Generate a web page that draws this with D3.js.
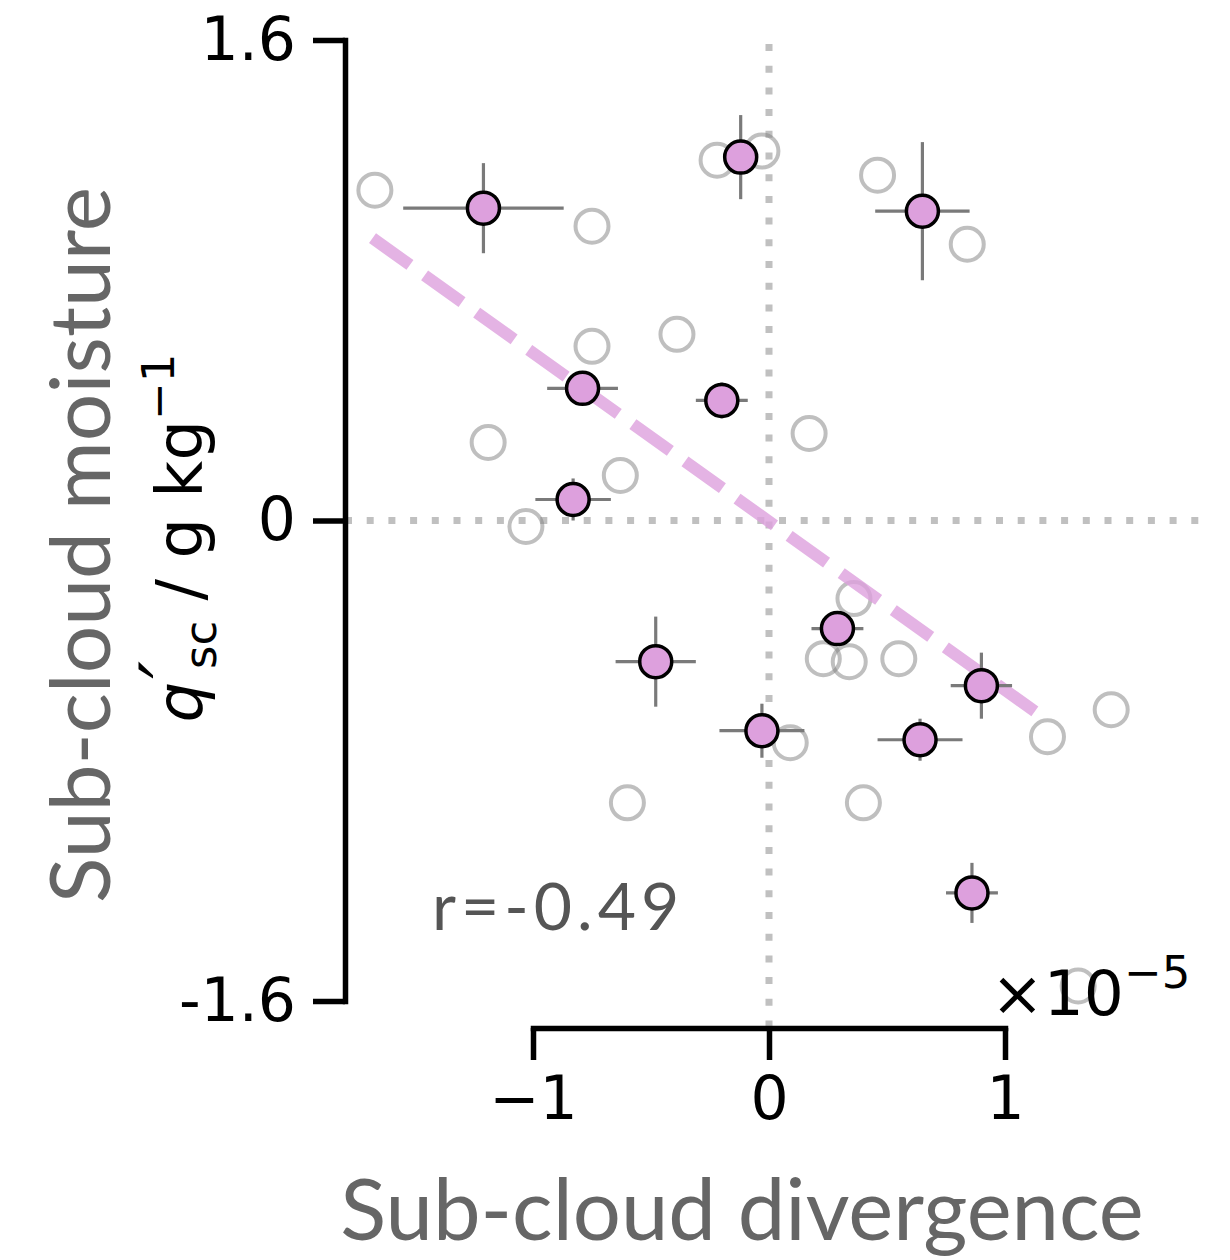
<!DOCTYPE html>
<html>
<head>
<meta charset="utf-8">
<script src="https://cdn.jsdelivr.net/npm/d3@7/dist/d3.min.js"></script>
<style>
  body { margin: 0; background: #fff; }
</style>
</head>
<body>
<div id="chart"></div>
<script>
// sub-cloud divergence (units of 1e-5) against sub-cloud moisture anomaly (g/kg)

// highlighted cases, pink with error bars
var divHi = [-1.21, -0.12, 0.65, -0.79, -0.20, -0.83, -0.48, 0.29, 0.90, -0.03, 0.64, 0.86];
var qHi   = [1.04, 1.21, 1.03, 0.44, 0.40, 0.07, -0.47, -0.36, -0.55, -0.70, -0.73, -1.24];
var divErr = [0.34, 0.05, 0.20, 0.15, 0.11, 0.16, 0.17, 0.11, 0.13, 0.18, 0.18, 0.11];
var qErr   = [0.15, 0.14, 0.23, 0.04, 0.06, 0.07, 0.15, 0.05, 0.11, 0.09, 0.07, 0.10];

// all other cases, open grey circles
var divAll = [-1.67, -0.75, -0.22, -0.03, 0.46, 0.84, -0.39, -0.75, -1.19, -0.63, -1.03,
              0.17, 0.36, 0.23, 0.34, 0.55, 1.45, 1.18, 0.09, -0.60, 0.40, 1.31];
var qAll   = [1.10, 0.98, 1.20, 1.23, 1.15, 0.92, 0.62, 0.58, 0.26, 0.15, -0.02,
              0.29, -0.26, -0.46, -0.47, -0.46, -0.63, -0.72, -0.74, -0.94, -0.94, -1.55];

// fitted line end points and correlation
var fitDiv = [-1.68, 1.17];
var fitQ   = [0.94, -0.66];
var corrLabel = "r=-0.49";

var xTicks = [-1, 0, 1];
var xTickLabels = ["\u22121", "0", "1"];
var yTicks = [-1.6, 0, 1.6];
var yTickLabels = ["-1.6", "0", "1.6"];

//-----------------------------------------------------------------------------
var width = 1230, height = 1260;
var xAxisY = 1028, yAxisX = 345;
var tickFont = "DejaVu Sans";
var labelFont = "Lato";

var svg = d3.select("#chart").append("svg")
    .attr("width", width)
    .attr("height", height)
    .style("background", "#fff");

var x = d3.scaleLinear().domain([-1, 1]).range([533, 1005]);
var y = d3.scaleLinear().domain([-1.6, 1.6]).range([1001, 40]);

// zero lines
svg.append("line")
    .attr("x1", yAxisX).attr("x2", x(1.83))
    .attr("y1", y(0)).attr("y2", y(0))
    .attr("stroke", "#c0c0c0").attr("stroke-width", 7)
    .attr("stroke-dasharray", "7 14.7");
svg.append("line")
    .attr("x1", x(0)).attr("x2", x(0))
    .attr("y1", y(1.6) + 4).attr("y2", xAxisY)
    .attr("stroke", "#c0c0c0").attr("stroke-width", 7)
    .attr("stroke-dasharray", "7 14.7");

// grey circles
svg.append("g").selectAll("circle")
    .data(divAll).enter()
    .append("circle")
    .attr("cx", function(d) { return x(d); })
    .attr("cy", function(d, i) { return y(qAll[i]); })
    .attr("r", 16.5)
    .attr("fill", "none")
    .attr("stroke", "#808080")
    .attr("stroke-opacity", 0.5)
    .attr("stroke-width", 4);

// regression line
svg.append("line")
    .attr("x1", x(fitDiv[0])).attr("y1", y(fitQ[0]))
    .attr("x2", x(fitDiv[1])).attr("y2", y(fitQ[1]))
    .attr("stroke", "plum").attr("stroke-opacity", 0.8)
    .attr("stroke-width", 12)
    .attr("stroke-dasharray", "46 18");

// error bars
var eb = svg.append("g").attr("stroke", "#7a7a7a").attr("stroke-width", 3.2);
eb.selectAll("line.h")
    .data(divHi).enter()
    .append("line").attr("class", "h")
    .attr("x1", function(d, i) { return x(d - divErr[i]); })
    .attr("x2", function(d, i) { return x(d + divErr[i]); })
    .attr("y1", function(d, i) { return y(qHi[i]); })
    .attr("y2", function(d, i) { return y(qHi[i]); });
eb.selectAll("line.v")
    .data(divHi).enter()
    .append("line").attr("class", "v")
    .attr("x1", function(d) { return x(d); })
    .attr("x2", function(d) { return x(d); })
    .attr("y1", function(d, i) { return y(qHi[i] - qErr[i]); })
    .attr("y2", function(d, i) { return y(qHi[i] + qErr[i]); });

// pink points
svg.append("g").selectAll("circle")
    .data(divHi).enter()
    .append("circle")
    .attr("cx", function(d) { return x(d); })
    .attr("cy", function(d, i) { return y(qHi[i]); })
    .attr("r", 16)
    .attr("fill", "plum")
    .attr("stroke", "#000")
    .attr("stroke-width", 3.5);

// axes
var yAxis = svg.append("g")
    .attr("transform", "translate(" + yAxisX + ",0)")
    .call(d3.axisLeft(y)
        .tickValues(yTicks)
        .tickFormat(function(d, i) { return yTickLabels[i]; })
        .tickSize(32).tickSizeOuter(0).tickPadding(17));

var xAxis = svg.append("g")
    .attr("transform", "translate(0," + xAxisY + ")")
    .call(d3.axisBottom(x)
        .tickValues(xTicks)
        .tickFormat(function(d, i) { return xTickLabels[i]; })
        .tickSize(32).tickSizeOuter(0).tickPadding(16));

[yAxis, xAxis].forEach(function(a) {
    a.select(".domain").attr("stroke", "#000").attr("stroke-width", 5.5)
        .attr("stroke-linecap", "square");
    a.selectAll(".tick line").attr("stroke", "#000").attr("stroke-width", 5.5);
    a.selectAll(".tick text").attr("fill", "#000")
        .style("font-family", tickFont).style("font-size", "60px");
});

// offset text for x axis
var off = svg.append("text")
    .attr("x", 991).attr("y", 1015)
    .style("font-family", tickFont).style("font-size", "63px")
    .attr("fill", "#000");
off.append("tspan").text("\u00d710");
off.append("tspan").attr("dy", -27).style("font-size", "45px").text("\u22125");

// axis labels
svg.append("text")
    .attr("x", 742).attr("y", 1240)
    .attr("text-anchor", "middle")
    .style("font-family", labelFont).style("font-size", "85px")
    .attr("fill", "#666")
    .text("Sub-cloud divergence");

svg.append("text")
    .attr("transform", "translate(110,545) rotate(-90)")
    .attr("text-anchor", "middle")
    .style("font-family", labelFont).style("font-size", "84px")
    .attr("fill", "#666")
    .text("Sub-cloud moisture");

var yl = svg.append("text")
    .attr("transform", "translate(202,538) rotate(-90)")
    .attr("text-anchor", "middle")
    .style("font-family", tickFont).style("font-size", "64px")
    .attr("fill", "#000");
yl.append("tspan").style("font-style", "italic").text("q");
yl.append("tspan").attr("dy", -6).attr("dx", 3)
    .style("font-size", "78px").style("font-style", "italic").text("\u2032");
yl.append("tspan").attr("dx", -8).attr("dy", 20).style("font-size", "45px").text("sc");
yl.append("tspan").attr("dy", -14).text(" / g kg");
yl.append("tspan").attr("dy", -28).style("font-size", "45px").text("\u22121");

// correlation
svg.append("text")
    .attr("x", 432).attr("y", 930)
    .style("font-family", labelFont).style("font-size", "66px")
    .style("letter-spacing", "5px")
    .attr("fill", "#555")
    .text(corrLabel);
</script>
</body>
</html>
